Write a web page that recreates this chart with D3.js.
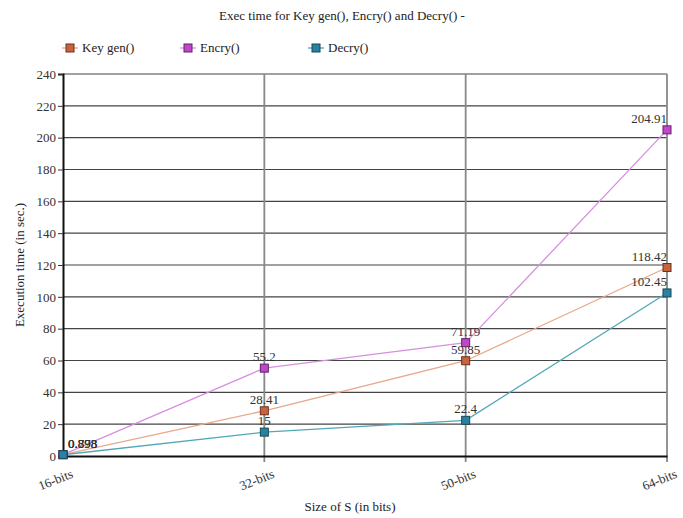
<!DOCTYPE html>
<html><head><meta charset="utf-8">
<script src="https://cdn.jsdelivr.net/npm/d3@7"></script>
<style>body{margin:0;background:#fff}</style>
</head><body>
<svg id="c" width="683" height="518" font-family="'Liberation Serif', 'Times New Roman', serif"></svg>
<script>
const categories = ["16-bits","32-bits","50-bits","64-bits"];
const keyGen = [0.893, 28.41, 59.85, 118.42];
const encry  = [0.878, 55.2, 71.19, 204.91];
const decry  = [0.798, 15, 22.4, 102.45];
const yTicks = [0,20,40,60,80,100,120,140,160,180,200,220,240];
const seriesNames = ["Key gen()","Encry()","Decry()"];

const FONT = "'Liberation Serif', 'Times New Roman', serif";
const series = [
  {name: seriesNames[0], values: keyGen, line:"#e8a888", fill:"#c8643c", stroke:"#6a3020"},
  {name: seriesNames[1], values: encry,  line:"#d890e0", fill:"#c048c8", stroke:"#602068"},
  {name: seriesNames[2], values: decry,  line:"#50a8b8", fill:"#2a82a0", stroke:"#184858"}
];

const svg = d3.select("#c");
const m = {l:63, r:16, t:74, b:62};
const W = 683, H = 518;
const x = d3.scalePoint().domain(categories).range([m.l, W - m.r]);
const y = d3.scaleLinear().domain([0,240]).range([H - m.b, m.t]);

// horizontal grid
svg.append("g").selectAll("line").data(yTicks.filter(d=>d>0)).join("line")
  .attr("x1", m.l).attr("x2", W - m.r).attr("y1", d=>y(d)).attr("y2", d=>y(d))
  .attr("stroke", "#444").attr("stroke-width", 1.2);
// vertical grid
svg.append("g").selectAll("line").data(categories.slice(1)).join("line")
  .attr("x1", d=>x(d)).attr("x2", d=>x(d)).attr("y1", m.t).attr("y2", y(0)+6)
  .attr("stroke", "#888").attr("stroke-width", 1.8);

// y axis
const yAxis = d3.axisLeft(y).tickValues(yTicks).tickSize(5).tickPadding(2);
const gy = svg.append("g").attr("transform", `translate(${m.l},0)`).call(yAxis)
  .attr("font-family", FONT).attr("font-size", 13);
gy.select(".domain").attr("stroke", "#111").attr("stroke-width", 2);
gy.selectAll(".tick line").attr("stroke", "#333");
gy.selectAll(".tick text").attr("fill", "#333");

// x axis
const xAxis = d3.axisBottom(x).tickSize(0).tickPadding(8);
const gx = svg.append("g").attr("transform", `translate(0,${y(0)})`).call(xAxis)
  .attr("font-family", FONT).attr("font-size", 13);
gx.select(".domain").attr("stroke", "#111").attr("stroke-width", 2.2);
gx.selectAll(".tick text").attr("fill", "#333")
  .attr("text-anchor", "end").attr("dy", "0.3em").attr("transform", "translate(6,10) rotate(-22)");

// lines
const line = d3.line().x((d,i)=>x(categories[i])).y(d=>y(d));
series.forEach(s => {
  svg.append("path").datum(s.values).attr("d", line)
    .attr("fill","none").attr("stroke", s.line).attr("stroke-width", 1.3);
});
// markers
series.forEach(s => {
  svg.append("g").selectAll("rect").data(s.values).join("rect")
    .attr("x", (d,i)=>x(categories[i]) - 4).attr("y", d=>y(d) - 4)
    .attr("width", 8).attr("height", 8)
    .attr("fill", s.fill).attr("stroke", s.stroke).attr("stroke-width", 1);
});
// labels
series.forEach(s => {
  svg.append("g").selectAll("text").data(s.values).join("text")
    .attr("x", (d,i)=> i===0 ? x(categories[i]) + 5 : x(categories[i]))
    .attr("y", (d,i)=> y(d) - 7)
    .attr("text-anchor", (d,i)=> i===0 ? "start" : (i===3 ? "end" : "middle"))
    .attr("font-size", 13).attr("fill", "#333")
    .text(d => d);
});

// title
svg.append("text").attr("x", 342).attr("y", 20).attr("text-anchor","middle")
  .attr("font-size", 13).attr("fill","#222").text("Exec time for Key gen(), Encry() and Decry() -");

// legend
const legX = [70, 188, 316];
series.forEach((s,i) => {
  const g = svg.append("g").attr("transform", `translate(${legX[i]},48)`);
  g.append("line").attr("x1",-8).attr("x2",8).attr("stroke", s.line).attr("stroke-width",1.3);
  g.append("rect").attr("x",-4).attr("y",-4).attr("width",8).attr("height",8)
    .attr("fill", s.fill).attr("stroke", s.stroke);
  g.append("text").attr("x", 12).attr("y", 4).attr("font-size", 13).attr("fill","#222").text(s.name);
});

// axis titles
svg.append("text").attr("transform", `translate(24,${(m.t + y(0))/2}) rotate(-90)`)
  .attr("text-anchor","middle").attr("font-size", 13).attr("fill","#222").text("Execution time (in sec.)");
svg.append("text").attr("x", 350).attr("y", 511).attr("text-anchor","middle")
  .attr("font-size", 13).attr("fill","#222").text("Size of S (in bits)");
</script>
</body></html>
